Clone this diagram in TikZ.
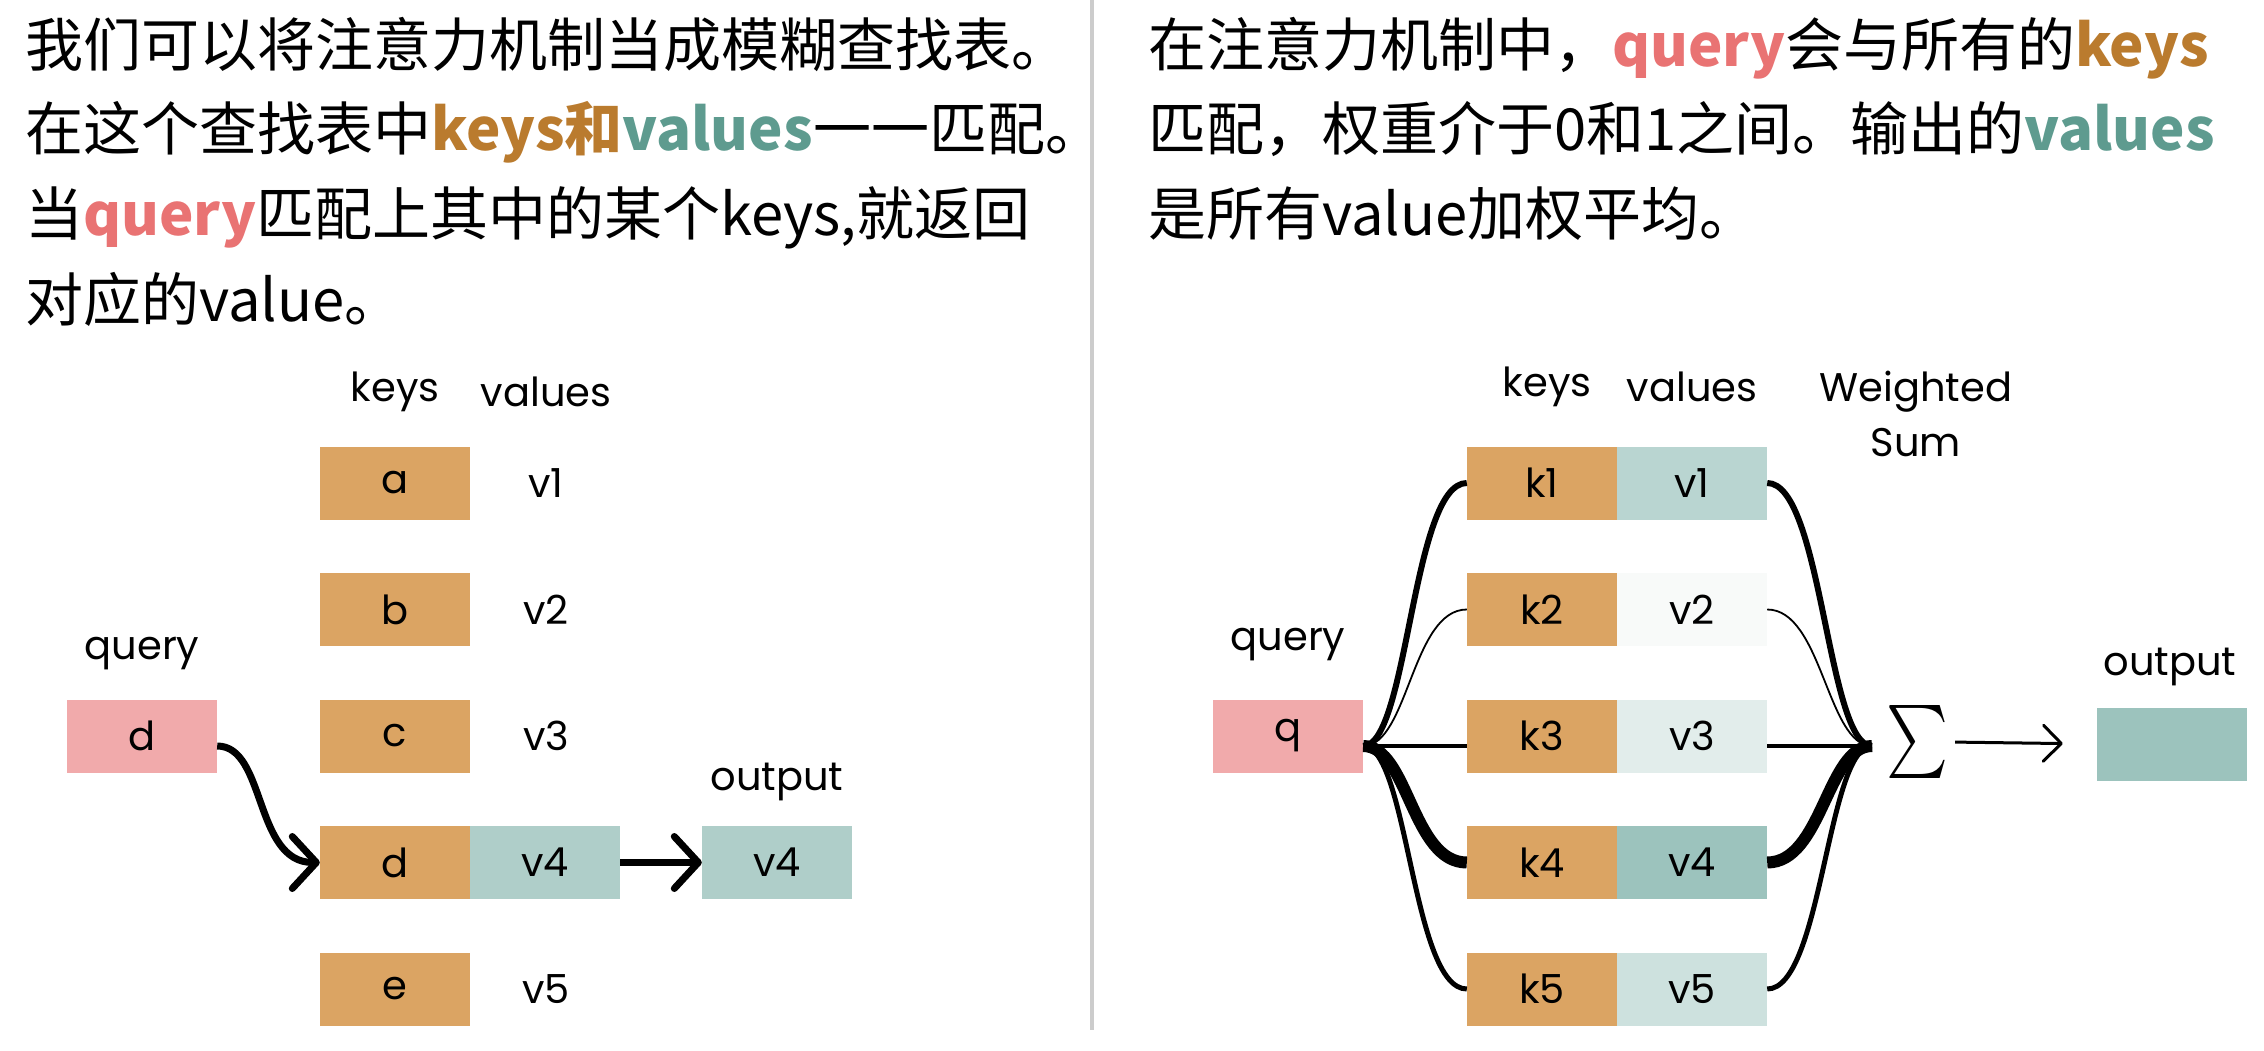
\documentclass[tikz,border=0pt]{standalone}
\usepackage{amsmath}
\usepackage{fontspec}
\setmainfont{Noto Sans CJK SC}
\newfontfamily\lblfont{Poppins}
\usetikzlibrary{arrows.meta}
\definecolor{keyfill}{HTML}{DBA463}
\definecolor{qfill}{HTML}{F1AAAB}
\definecolor{valfill}{HTML}{AFCEC9}
\definecolor{vfilla}{HTML}{B9D5D1}
\definecolor{vfillb}{HTML}{F8FAF9}
\definecolor{vfillc}{HTML}{E2EDEB}
\definecolor{vfilld}{HTML}{9CC3BD}
\definecolor{vfille}{HTML}{CDE1DE}
\definecolor{keytxt}{HTML}{BA7B2E}
\definecolor{valtxt}{HTML}{5E9B8F}
\definecolor{qtxt}{HTML}{E97373}
\definecolor{divcol}{HTML}{CCCCCC}

\begin{document}
\begin{tikzpicture}[x=1pt,y=-1pt,
    txt/.style={anchor=base west,inner sep=0pt,font=\fontsize{58}{62}\selectfont},
    lbl/.style={inner sep=0pt,font=\lblfont\fontsize{40}{55}\selectfont},
    cell/.style={lbl,minimum width=150pt,minimum height=73pt},
    bigarrow/.style={line width=7pt,-{Straight Barb[length=24pt,width=52pt,round]}}]
  \useasboundingbox (0,0) rectangle (2264,1051);
  % left text
  \node[txt] (l1) at (25,67) {我们可以将注意力机制当成模糊查找表。};
  \node[txt] (l2) at (25,151) {在这个查找表中{\bfseries\color{keytxt}keys和}{\bfseries\color{valtxt}values}一一匹配。};
  \node[txt] (l3) at (25,236) {当{\bfseries\color{qtxt}query}匹配上其中的某个keys,就返回};
  \node[txt] (l4) at (25,321) {对应的value。};
  % right text
  \node[txt] (r1) at (1148,67) {在注意力机制中，{\bfseries\color{qtxt}query}会与所有的{\bfseries\color{keytxt}keys}};
  \node[txt] (r2) at (1148,151) {匹配，权重介于0和1之间。输出的{\bfseries\color{valtxt}values}};
  \node[txt] (r3) at (1148,236) {是所有value加权平均。};
  \draw[line width=4pt,divcol] (1092,0) -- (1092,1030);

  % left: lookup table
  \node[lbl] (lkeys) at (395,392) {keys};
  \node[lbl] (lvals) at (546,392) {values};
  \foreach \k [count=\i] in {a,b,c,d,e}
    \node[cell,fill=keyfill] (lk\i) at (395,{483+126.5*(\i-1)}) {\k};
  \foreach \i in {1,2,3,5}
    \node[lbl] (lv\i) at (546,{483+126.5*(\i-1)}) {v\i};
  \node[cell,fill=valfill] (lv4) at (545,862.5) {v4};
  \node[lbl] (lqlbl) at (142,654) {query};
  \node[cell,fill=qfill] (lq) at (142,736) {d};
  \node[lbl] (loutlbl) at (777,782) {output};
  \node[cell,fill=valfill] (lout) at (777,862.5) {v4};
  \draw[bigarrow] ([yshift=-10pt]lq.east) .. controls +(49,0) and +(-66,0) .. (lk4.west);
  \draw[bigarrow] (lv4) -- (lout);

  % right: soft lookup
  \node[lbl] (rkeys) at (1547,387) {keys};
  \node[lbl] (rvals) at (1692,387) {values};
  \node[lbl,align=center] (wsum) at (1916,414) {Weighted\\Sum};
  \foreach \i/\c in {1/vfilla,2/vfillb,3/vfillc,4/vfilld,5/vfille} {
    \node[cell,fill=keyfill] (k\i) at (1542,{483+126.5*(\i-1)}) {k\i};
    \node[cell,fill=\c] (v\i) at (1692,{483+126.5*(\i-1)}) {v\i};
  }
  \node[lbl] (rqlbl) at (1288,645) {query};
  \node[cell,fill=qfill] (q) at (1288,736) {q};
  \coordinate (hubL) at ([yshift=-10pt]q.east);
  \coordinate (hubR) at (1872,746);
  \foreach \i/\w/\d in {1/6/0,2/1.8/0,3/3.5/10,4/12/0,5/5/0} {
    \draw[line width=\w pt] (hubL) .. controls +(45,0) and +(-55,0) .. ([yshift=-\d pt]k\i.west);
    \draw[line width=\w pt] ([yshift=-\d pt]v\i.east) .. controls +(55,0) and +(-45,0) .. (hubR);
  }
  \node[inner sep=0pt] (sigma) at (1917,742) {\resizebox*{62pt}{73pt}{$\sum$}};
  \node[lbl] (routlbl) at (2170,667) {output};
  \node[cell,fill=vfilld] (rout) at (2172,744) {};
  \draw[line width=3pt,-{Straight Barb[length=18pt,width=36pt,round]},shorten <=7pt,shorten >=34pt] (sigma.east) -- (rout.west);
\end{tikzpicture}
\end{document}
